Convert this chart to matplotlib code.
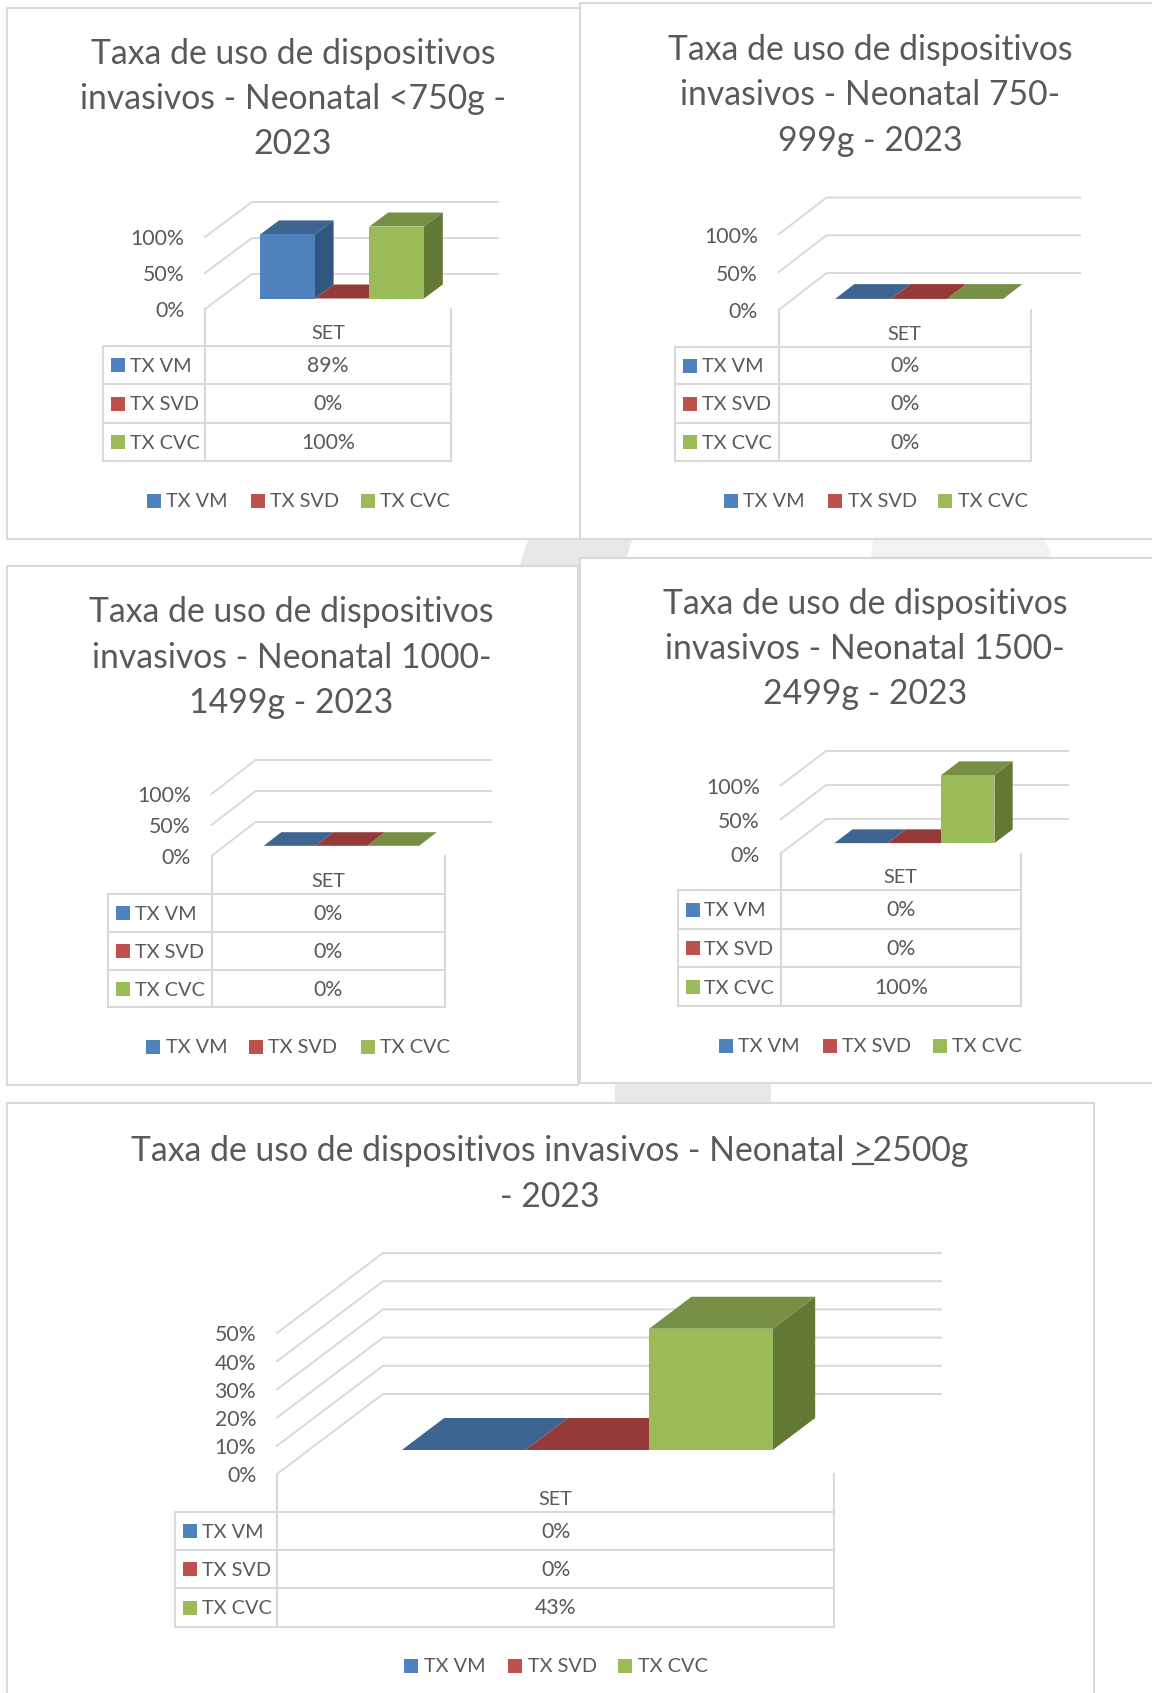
# Taxa de uso de dispositivos invasivos, five excel style 3D charts.
import matplotlib
matplotlib.use('Agg')
import matplotlib.pyplot as plt
from matplotlib.patches import Polygon, Rectangle
from matplotlib.transforms import ScaledTranslation

plt.rcParams['font.family'] = ['Lato', 'DejaVu Sans']

# Data.
SERIES = ['TX VM', 'TX SVD', 'TX CVC']
GROUP = 'SET'

VALUES_750 = [89, 0, 100]
VALUES_999 = [0, 0, 0]
VALUES_1499 = [0, 0, 0]
VALUES_2499 = [0, 0, 100]
VALUES_2500 = [0, 0, 43]

CELLS_750 = ['89%', '0%', '100%']
CELLS_999 = ['0%', '0%', '0%']
CELLS_1499 = ['0%', '0%', '0%']
CELLS_2499 = ['0%', '0%', '100%']
CELLS_2500 = ['0%', '0%', '43%']

TICKS_SMALL = [0, 50, 100]
TICKS_BIG = [0, 10, 20, 30, 40, 50]

TITLE_750 = ['Taxa de uso de dispositivos', 'invasivos - Neonatal <750g -', '2023']
TITLE_999 = ['Taxa de uso de dispositivos', 'invasivos - Neonatal 750-', '999g - 2023']
TITLE_1499 = ['Taxa de uso de dispositivos', 'invasivos - Neonatal 1000-', '1499g - 2023']
TITLE_2499 = ['Taxa de uso de dispositivos', 'invasivos - Neonatal 1500-', '2499g - 2023']
TITLE_2500 = ['Taxa de uso de dispositivos invasivos - Neonatal >2500g', '- 2023']

# Statics.
WIDTH = 1152
HEIGHT = 1693
BORDER = '#D9D9D9'
GREY = '#595959'
BACK = '#E7E7E7'
BACK_LIGHT = '#F2F2F2'
TITLE_SIZE = 24.3
TEXT_SIZE = 14.3
NUMBER_SIZE = 15.3

FRONT = ['#4F81BD', '#C0504D', '#9BBB59']
TOP = ['#3E6491', '#943A38', '#778F45']
SIDE = ['#325680', '#7E2F2D', '#647835']

BAR_WIDTH = 0.222
DEPTH_FRONT = 0.30
DEPTH_BACK = 0.70

fig = plt.figure(figsize=(WIDTH/100, HEIGHT/100), dpi=100)

page = fig.add_axes([0, 0, 1, 1], zorder=0)
page.set_xlim(0, WIDTH)
page.set_ylim(HEIGHT, 0)
page.axis('off')

# Watermark pieces showing between the charts.
page.add_patch(Polygon([(530, 535), (634, 535), (622, 570), (518, 570)], fc=BACK, ec='none'))
page.add_patch(Polygon([(874, 535), (1041, 535), (1051, 552), (1047, 565), (869, 565)], fc=BACK_LIGHT, ec='none'))
page.add_patch(Rectangle((615, 1080), 156, 30, fc=BACK, ec='none'))


def chart(frame, title, title_x, title_y, values, cells, ticks, x0, y0, w, dx, dy, ppu,
          right, table_left, rows, legend_y, legend_x):
	"""
	One chart: frame, title, 3D column plot, data table and legend.
	"""
	l, t, r, b = frame
	page.add_patch(Rectangle((l, t), r-l, b-t, fc='white', ec=BORDER, lw=1.5))

	for line, y in zip(title, title_y):
		page.text(title_x, y, line, color=GREY, fontsize=TITLE_SIZE, ha='center', va='center_baseline')

	# Front plane of the wall is the axes, the depth is added by hand.
	ymax = ticks[-1]
	ax = fig.add_axes([x0/WIDTH, 1 - y0/HEIGHT, w/WIDTH, ymax*ppu/HEIGHT], zorder=2)
	ax.patch.set_visible(False)
	for s in ax.spines.values():
		s.set_visible(False)
	ax.set_xlim(-0.5, 0.5)
	ax.set_ylim(0, ymax)
	ax.set_xticks([])
	ax.set_yticks(ticks)
	ax.set_yticklabels(['%d%%' % v for v in ticks], color=GREY, fontsize=NUMBER_SIZE)
	ax.tick_params(axis='y', length=0, pad=15)
	for label in ax.get_yticklabels():
		label.set_transform(label.get_transform() + ScaledTranslation(0, -0.004, fig.dpi_scale_trans))

	ddx = dx/w
	ddy = dy/ppu
	xr = -0.5 + (right - x0)/w
	for v in ticks:
		ax.plot([-0.5, -0.5+ddx, xr], [v, v+ddy, v+ddy], color=BORDER, lw=1.4, clip_on=False, zorder=1)

	for i, v in enumerate(values):
		xa = -0.5*3*BAR_WIDTH + i*BAR_WIDTH + DEPTH_FRONT*ddx
		xb = xa + BAR_WIDTH
		xc = xa + (DEPTH_BACK-DEPTH_FRONT)*ddx
		xd = xb + (DEPTH_BACK-DEPTH_FRONT)*ddx
		y1 = DEPTH_FRONT*ddy
		y2 = DEPTH_BACK*ddy
		top = [(xa, y1+v), (xb, y1+v), (xd, y2+v), (xc, y2+v)]
		ax.add_patch(Polygon(top, fc=TOP[i], ec='none', clip_on=False, zorder=3+i))
		if v > 0:
			side = [(xb, y1), (xd, y2), (xd, y2+v), (xb, y1+v)]
			front = [(xa, y1), (xb, y1), (xb, y1+v), (xa, y1+v)]
			ax.add_patch(Polygon(side, fc=SIDE[i], ec='none', clip_on=False, zorder=3+i))
			ax.add_patch(Polygon(front, fc=FRONT[i], ec='none', clip_on=False, zorder=3+i))

	# Data table.
	x1 = x0 + w
	page.plot([x0, x0], [y0, rows[-1]], color=BORDER, lw=1.5)
	page.plot([x1, x1], [y0, rows[-1]], color=BORDER, lw=1.5)
	page.plot([table_left, table_left], [rows[0], rows[-1]], color=BORDER, lw=1.5)
	for y in rows:
		page.plot([table_left, x1], [y, y], color=BORDER, lw=1.5)
	page.text((x0+x1)/2, rows[0]-14, GROUP, color=GREY, fontsize=TEXT_SIZE, ha='center', va='center_baseline')
	for i, name in enumerate(SERIES):
		yc = (rows[i]+rows[i+1])/2
		page.add_patch(Rectangle((table_left+8, yc-7), 14, 14, fc=FRONT[i], ec='none'))
		page.text(table_left+27, yc, name, color=GREY, fontsize=TEXT_SIZE, va='center_baseline')
		page.text((x0+x1)/2, yc-1, cells[i], color=GREY, fontsize=NUMBER_SIZE, ha='center', va='center_baseline')

	# Legend.
	for i, name in enumerate(SERIES):
		page.add_patch(Rectangle((legend_x[i], legend_y-6), 14, 14, fc=FRONT[i], ec='none'))
		page.text(legend_x[i]+19.5, legend_y, name, color=GREY, fontsize=TEXT_SIZE, va='center_baseline')


chart((7, 8, 580, 539), TITLE_750, 293, [51, 96, 141.5], VALUES_750, CELLS_750, TICKS_SMALL,
      205, 309, 246, 47, 35, 0.72, 498, 102.5, [346, 384, 423, 461], 500, [147, 251, 361])
chart((580, 3, 1160, 539), TITLE_999, 870, [47.5, 92, 138], VALUES_999, CELLS_999, TICKS_SMALL,
      778.5, 310, 252.5, 48, 37, 0.755, 1080, 675, [347, 384, 423, 461], 500, [723.5, 828, 938])
chart((7, 566, 578, 1085), TITLE_1499, 291.5, [609, 655, 700], VALUES_1499, CELLS_1499, TICKS_SMALL,
      211.5, 856, 233.5, 44, 34, 0.62, 491, 108, [894, 932, 970, 1007], 1046, [146, 249, 360.5])
chart((580, 558, 1160, 1083), TITLE_2499, 865, [601, 646, 691.5], VALUES_2499, CELLS_2499, TICKS_SMALL,
      780.5, 853.5, 240.5, 45.5, 34.5, 0.68, 1068, 677.5, [890, 929, 967, 1006], 1044.5, [719, 823, 933])
chart((7, 1103, 1094, 1720), TITLE_2500, 550, [1148, 1194], VALUES_2500, CELLS_2500, TICKS_BIG,
      277, 1474, 557, 106, 80, 2.82, 941, 174.5, [1512, 1550, 1588, 1627], 1665, [404, 508, 618])

# The source underlines the > of the last title.
rend = fig.canvas.get_renderer()
whole = page.text(0, 0, TITLE_2500[0], fontsize=TITLE_SIZE)
before = page.text(0, 0, TITLE_2500[0].split('>')[0], fontsize=TITLE_SIZE)
mark = page.text(0, 0, '>', fontsize=TITLE_SIZE)
start = 550 - whole.get_window_extent(rend).width/2 + before.get_window_extent(rend).width
end = start + mark.get_window_extent(rend).width
for tmp in (whole, before, mark):
	tmp.remove()
page.plot([start, end], [1164, 1164], color=GREY, lw=1.6)

page.set_xlim(0, WIDTH)
page.set_ylim(HEIGHT, 0)
plt.savefig('out.png', dpi=100)
